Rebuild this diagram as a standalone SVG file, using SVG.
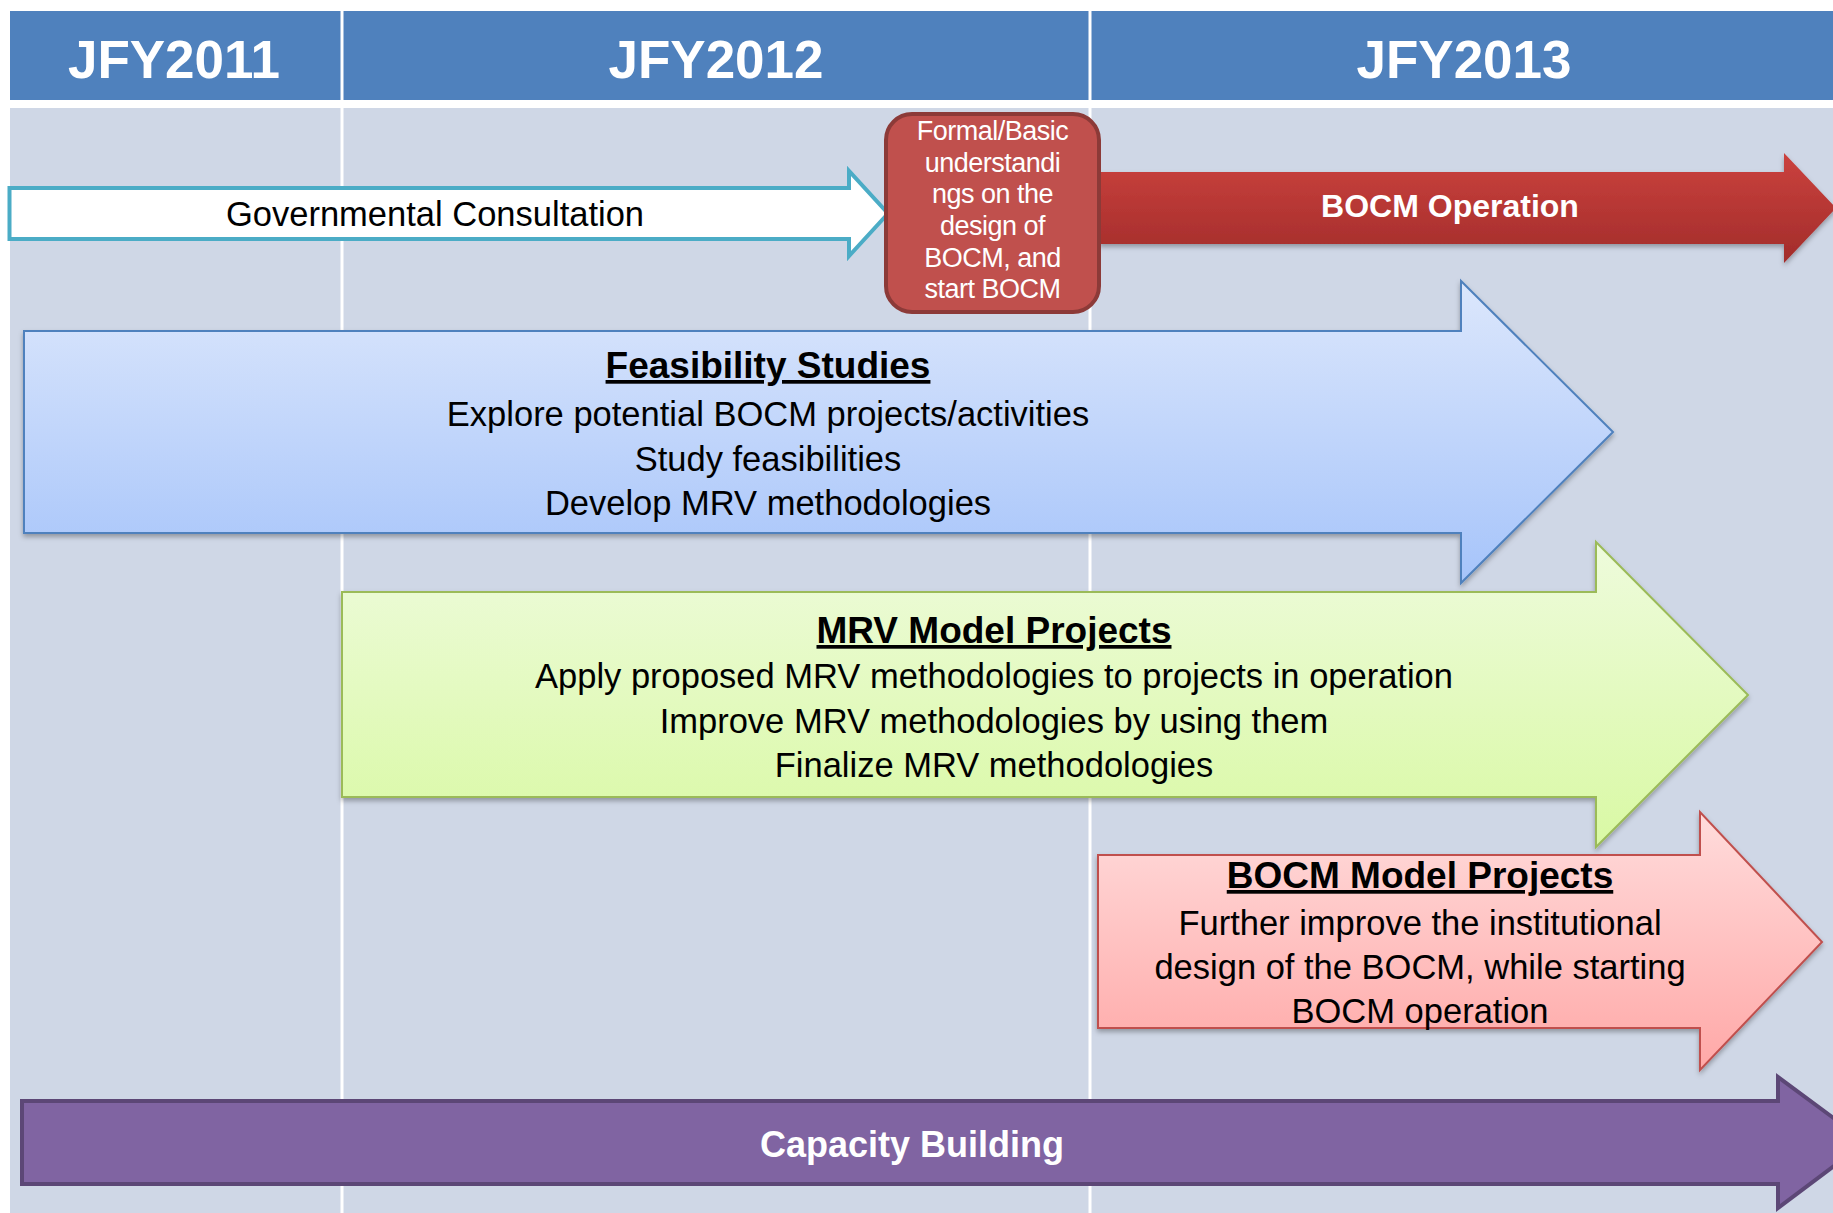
<svg xmlns="http://www.w3.org/2000/svg" width="1833" height="1213" viewBox="0 0 1833 1213">
<style>
.hdr{font-family:"Liberation Sans",Arial,sans-serif;font-weight:bold;font-size:53px;fill:#fff;text-anchor:middle}
.body{font-family:"Liberation Sans",Arial,sans-serif;font-size:34.5px;fill:#000;text-anchor:middle}
.ttl{font-family:"Liberation Sans",Arial,sans-serif;font-size:37px;font-weight:bold;fill:#000;text-anchor:middle;text-decoration:underline}
.wb{font-family:"Liberation Sans",Arial,sans-serif;font-weight:bold;fill:#fff;text-anchor:middle}
.small{font-family:"Liberation Sans",Arial,sans-serif;font-size:27px;fill:#fff;text-anchor:middle;letter-spacing:-0.5px}
.divider{stroke:#fff;stroke-width:3}
</style>
<defs>
<linearGradient id="gBlue" x1="0" y1="0" x2="0" y2="1"><stop offset="0" stop-color="#DCE7FC"/><stop offset="1" stop-color="#A6C4FA"/></linearGradient>
<linearGradient id="gGreen" x1="0" y1="0" x2="0" y2="1"><stop offset="0" stop-color="#EEFBDC"/><stop offset="1" stop-color="#D9F9A4"/></linearGradient>
<linearGradient id="gPink" x1="0" y1="0" x2="0" y2="1"><stop offset="0" stop-color="#FFDCDC"/><stop offset="1" stop-color="#FFA8A7"/></linearGradient>
<linearGradient id="gRed" x1="0" y1="0" x2="0" y2="1"><stop offset="0" stop-color="#CB423E"/><stop offset="1" stop-color="#A22C2A"/></linearGradient>
<filter id="sh" x="-5%" y="-10%" width="110%" height="125%"><feDropShadow dx="0" dy="3" stdDeviation="2.5" flood-color="#000" flood-opacity="0.3"/></filter>
</defs>
<rect x="0" y="0" width="1833" height="1213" fill="#fff"/>
<g id="header">
<rect x="10" y="11" width="1823" height="89" fill="#4F81BD"/>
<rect x="10" y="108" width="1823" height="1105" fill="#CFD7E6"/>
<line class="divider" x1="342" y1="11" x2="342" y2="1213"/>
<line class="divider" x1="1090" y1="11" x2="1090" y2="1213"/>
<text class="hdr" x="174" y="78">JFY2011</text>
<text class="hdr" x="716" y="78">JFY2012</text>
<text class="hdr" x="1464" y="78">JFY2013</text>
</g>
<g id="connectors"></g>
<g id="gov-consultation">
<path d="M9.5,188 H849 V171 L888,213.5 L849,256 V239 H9.5 Z" fill="#fff" stroke="#4BACC6" stroke-width="4"/>
<text class="body" x="435" y="226" font-size="34">Governmental Consultation</text>
</g>
<g id="bocm-operation">
<path d="M1099,172 H1784 V153 L1836,208 L1784,263 V244 H1099 Z" fill="url(#gRed)" filter="url(#sh)"/>
<text class="wb" x="1450" y="217" font-size="32">BOCM Operation</text>
</g>
<g id="formal-understanding">
<rect x="886" y="114" width="213" height="198" rx="26" fill="#C0504D" stroke="#8C3A38" stroke-width="4"/>
<text class="small" x="992.5" y="140">Formal/Basic</text>
<text class="small" x="992.5" y="172">understandi</text>
<text class="small" x="992.5" y="203">ngs on the</text>
<text class="small" x="992.5" y="235">design of</text>
<text class="small" x="992.5" y="267">BOCM, and</text>
<text class="small" x="992.5" y="298">start BOCM</text>
</g>
<g id="feasibility-studies">
<path d="M24,331 H1461 V281 L1613,432 L1461,583 V533 H24 Z" fill="url(#gBlue)" stroke="#4F81BD" stroke-width="2" filter="url(#sh)"/>
<text class="ttl" x="768" y="378" font-size="36">Feasibility Studies</text>
<text class="body" x="768" y="426">Explore potential BOCM projects/activities</text>
<text class="body" x="768" y="471">Study feasibilities</text>
<text class="body" x="768" y="515">Develop MRV methodologies</text>
</g>
<g id="mrv-model-projects">
<path d="M342,592 H1596 V542 L1748,695 L1596,847 V797 H342 Z" fill="url(#gGreen)" stroke="#9BBB59" stroke-width="2" filter="url(#sh)"/>
<text class="ttl" x="994" y="643" font-size="37.5">MRV Model Projects</text>
<text class="body" x="994" y="688">Apply proposed MRV methodologies to projects in operation</text>
<text class="body" x="994" y="733">Improve MRV methodologies by using them</text>
<text class="body" x="994" y="777">Finalize MRV methodologies</text>
</g>
<g id="bocm-model-projects">
<path d="M1098,855 H1700 V812 L1822,942 L1700,1070 V1028 H1098 Z" fill="url(#gPink)" stroke="#C0504D" stroke-width="2" filter="url(#sh)"/>
<text class="ttl" x="1420" y="888">BOCM Model Projects</text>
<text class="body" x="1420" y="935">Further improve the institutional</text>
<text class="body" x="1420" y="979">design of the BOCM, while starting</text>
<text class="body" x="1420" y="1023">BOCM operation</text>
</g>
<g id="capacity-building">
<path d="M22,1101 H1778 V1077 L1866,1142 L1778,1208 V1184 H22 Z" fill="#8064A2" stroke="#5C4776" stroke-width="4"/>
<text class="wb" x="912" y="1157" font-size="36">Capacity Building</text>
</g>
</svg>
